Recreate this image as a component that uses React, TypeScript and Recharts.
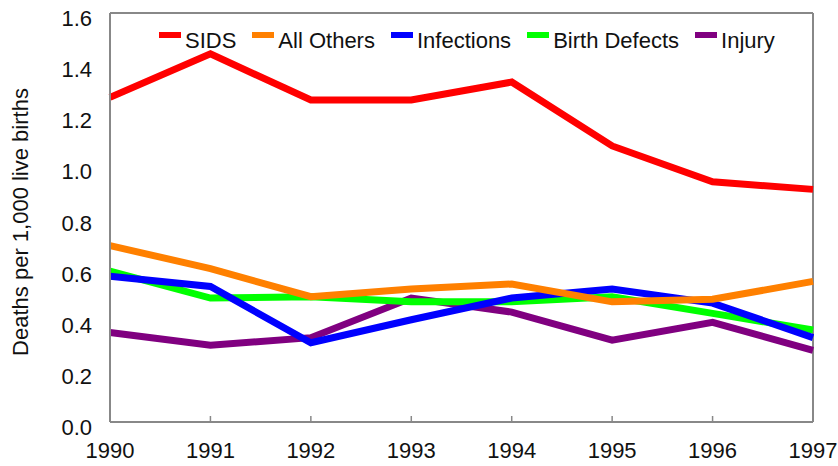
import { Legend, Line, LineChart, ReferenceLine, XAxis, YAxis } from "recharts"

const years = ["1990", "1991", "1992", "1993", "1994", "1995", "1996", "1997"]
const sids = [1.27, 1.44, 1.26, 1.26, 1.33, 1.08, 0.94, 0.91]
const allOthers = [0.69, 0.6, 0.49, 0.52, 0.54, 0.47, 0.48, 0.55]
const infections = [0.57, 0.53, 0.31, 0.4, 0.485, 0.52, 0.465, 0.33]
const birthDefects = [0.59, 0.485, 0.49, 0.47, 0.47, 0.49, 0.425, 0.36]
const injury = [0.35, 0.3, 0.33, 0.485, 0.43, 0.32, 0.39, 0.28]
const yTicks = [0, 0.2, 0.4, 0.6, 0.8, 1.0, 1.2, 1.4, 1.6]

const series = [
  { key: "sids", name: "SIDS", color: "#ff0000", values: sids },
  { key: "allOthers", name: "All Others", color: "#ff8000", values: allOthers },
  { key: "infections", name: "Infections", color: "#0000ff", values: infections },
  { key: "birthDefects", name: "Birth Defects", color: "#00ff00", values: birthDefects },
  { key: "injury", name: "Injury", color: "#800080", values: injury },
]

const data = years.map((year, i) => {
  const row: Record<string, string | number> = { year }
  series.forEach((s) => (row[s.key] = s.values[i]))
  return row
})

const font = '"Liberation Sans", Arial, sans-serif'
const axisColor = "#888888"

function XTick(props: any) {
  const { x, y, payload, index } = props
  const inner = index > 0 && index < years.length - 1
  return (
    <g>
      {inner && <line x1={x} x2={x} y1={y} y2={y - 6} stroke={axisColor} strokeWidth={1.5} />}
      <text x={x} y={y + 36} textAnchor="middle" fontSize={22} fontFamily={font} fill="#111">
        {payload.value}
      </text>
    </g>
  )
}

function YTick(props: any) {
  const { x, y, payload } = props
  return (
    <text x={x - 18} y={y + 13} textAnchor="end" fontSize={22} fontFamily={font} fill="#111">
      {Number(payload.value).toFixed(1)}
    </text>
  )
}

function YLabel(props: any) {
  const { x, y, height } = props.viewBox
  const cx = x + 28
  const cy = y + height / 2 + 4.5
  return (
    <text
      x={cx}
      y={cy}
      transform={`rotate(-90 ${cx} ${cy})`}
      textAnchor="middle"
      fontSize={22}
      fontFamily={font}
      fill="#111"
    >
      Deaths per 1,000 live births
    </text>
  )
}

function LegendBox() {
  return (
    <div style={{ display: "flex", fontFamily: font, fontSize: 22, lineHeight: "22px", color: "#111", whiteSpace: "nowrap" }}>
      {series.map((s) => (
        <div key={s.key} style={{ display: "flex", alignItems: "flex-start", marginRight: 16 }}>
          <span style={{ display: "inline-block", width: 22, height: 6, marginTop: 2, marginRight: 4, background: s.color }} />
          <span>{s.name}</span>
        </div>
      ))}
    </div>
  )
}

export default function App() {
  return (
    <div style={{ position: "fixed", left: 0, top: 0, width: 838, height: 466, background: "#fff" }}>
      <LineChart width={838} height={466} data={data} margin={{ top: 13, right: 25, bottom: 0, left: 0 }}>
        <XAxis
          dataKey="year"
          interval={0}
          height={44}
          tickSize={0}
          tickMargin={0}
          tickLine={false}
          axisLine={{ stroke: axisColor, strokeWidth: 2 }}
          tick={<XTick />}
        />
        <YAxis
          width={110}
          domain={[0, 1.6]}
          ticks={yTicks}
          tickSize={0}
          tickMargin={0}
          tickLine={false}
          axisLine={{ stroke: axisColor, strokeWidth: 2 }}
          tick={<YTick />}
          label={<YLabel />}
        />
        <ReferenceLine y={1.6} stroke={axisColor} strokeWidth={2} />
        <ReferenceLine x="1997" stroke={axisColor} strokeWidth={2} />
        <Legend
          layout="horizontal"
          verticalAlign="middle"
          align="center"
          wrapperStyle={{ top: 30, left: 159, width: "auto" }}
          content={() => <LegendBox />}
        />
        {[...series].reverse().map((s) => (
          <Line
            key={s.key}
            type="linear"
            dataKey={s.key}
            name={s.name}
            stroke={s.color}
            strokeWidth={7}
            dot={false}
            activeDot={false}
            isAnimationActive={false}
          />
        ))}
      </LineChart>
    </div>
  )
}
